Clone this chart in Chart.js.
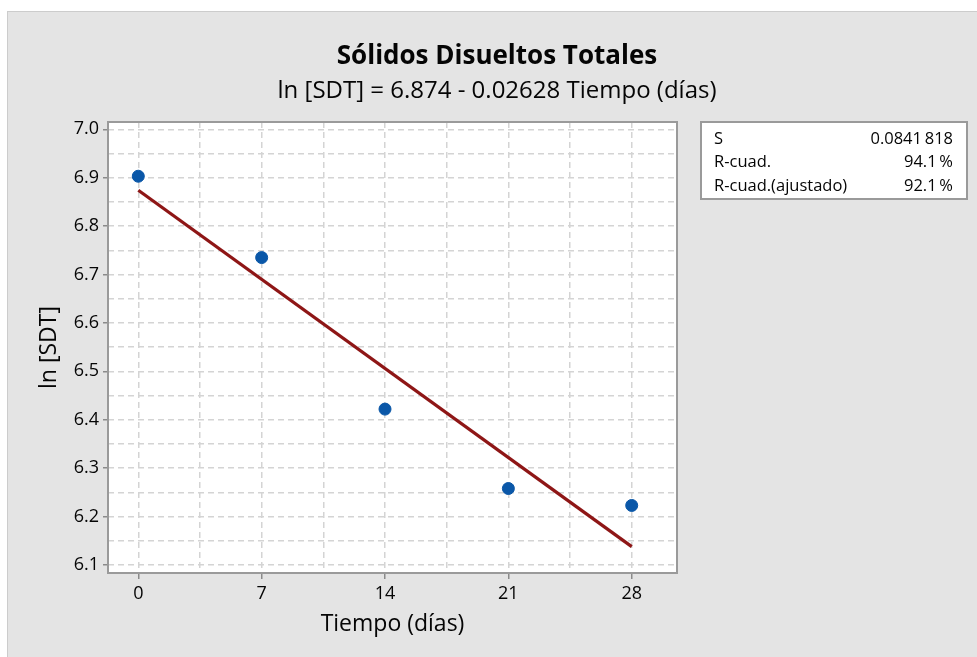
<!DOCTYPE html>
<html lang="es">
<head>
<meta charset="utf-8">
<title>Sólidos Disueltos Totales</title>
<script src="https://cdn.jsdelivr.net/npm/chart.js@4.4.1/dist/chart.umd.min.js"></script>
<style>
  html, body { margin: 0; padding: 0; background: #ffffff; }
  canvas { display: block; }
</style>
</head>
<body>
<canvas id="chart" width="977" height="657"></canvas>
<script>
const tiempo = [0, 7, 14, 21, 28];
const lnSDT = [6.903, 6.735, 6.422, 6.258, 6.223];

// fitted line ln[SDT] = 6.874 - 0.02628 t, end points
const fitX = [0, 28];
const fitY = [6.874, 6.138];

// axis ticks (labelled) and grid positions
const xTickLabels = [0, 7, 14, 21, 28];
const xGrid = [0, 3.5, 7, 10.5, 14, 17.5, 21, 24.5, 28];
const yTickLabels = [6.1, 6.2, 6.3, 6.4, 6.5, 6.6, 6.7, 6.8, 6.9, 7.0];
const yGrid = [6.1, 6.15, 6.2, 6.25, 6.3, 6.35, 6.4, 6.45, 6.5, 6.55, 6.6, 6.65, 6.7, 6.75, 6.8, 6.85, 6.9, 6.95, 7.0];

// model summary table
const statLabels = ['S', 'R-cuad.', 'R-cuad.(ajustado)'];
const statValues = ['0.0841\u2009818', '94.1\u2009%', '92.1\u2009%'];

const FONT = "'Open Sans', 'Noto Sans', sans-serif";
const TEXT = '#050505';
const GRID = '#d4d4d4';
const TICK = '#8a8a8a';

const isIn = (arr, v) => arr.some(a => Math.abs(a - v) < 1e-6);

// grey panel, white plot area, border and the summary box
const frame = {
    id: 'frame',
    beforeDraw(chart) {
        const { ctx, chartArea: a } = chart;
        ctx.save();
        ctx.fillStyle = '#e4e4e4';
        ctx.fillRect(7, 11, chart.width - 7, chart.height - 11);
        ctx.strokeStyle = '#cccccc';
        ctx.lineWidth = 1;
        ctx.strokeRect(7.5, 11.5, chart.width, chart.height);
        ctx.fillStyle = '#ffffff';
        ctx.fillRect(a.left, a.top, a.right - a.left, a.bottom - a.top);
        ctx.restore();
    },
    afterDraw(chart) {
        const { ctx, chartArea: a } = chart;
        ctx.save();
        ctx.strokeStyle = '#9a9a9a';
        ctx.lineWidth = 2;
        ctx.strokeRect(a.left, a.top, a.right - a.left, a.bottom - a.top);

        // summary box
        const bx = 701, by = 122, bw = 266, bh = 77;
        ctx.fillStyle = '#ffffff';
        ctx.fillRect(bx, by, bw, bh);
        ctx.strokeStyle = '#9a9a9a';
        ctx.lineWidth = 2;
        ctx.strokeRect(bx, by, bw, bh);
        ctx.fillStyle = TEXT;
        ctx.font = "16.5px " + FONT;
        ctx.textBaseline = 'middle';
        statLabels.forEach((lab, i) => {
            const y = 139 + i * 23.5;
            ctx.textAlign = 'left';
            ctx.fillText(lab, 714, y);
            ctx.textAlign = 'right';
            ctx.fillText(statValues[i], 953, y);
        });
        ctx.restore();
    }
};

new Chart(document.getElementById('chart'), {
    type: 'scatter',
    data: {
        datasets: [
            {
                label: 'Ajuste',
                type: 'line',
                data: fitX.map((x, i) => ({ x: x, y: fitY[i] })),
                borderColor: '#8e1616',
                borderWidth: 3.2,
                pointRadius: 0,
                fill: false,
                order: 2
            },
            {
                label: 'ln [SDT]',
                data: tiempo.map((t, i) => ({ x: t, y: lnSDT[i] })),
                backgroundColor: '#0a57a8',
                borderColor: '#0a57a8',
                pointRadius: 6,
                pointHoverRadius: 6,
                order: 1
            }
        ]
    },
    options: {
        responsive: false,
        animation: false,
        devicePixelRatio: 1,
        layout: { padding: { top: 10, left: 20, right: 3, bottom: 0 } },
        plugins: {
            legend: { display: false },
            tooltip: { enabled: false },
            title: {
                display: true,
                text: 'Sólidos Disueltos Totales',
                color: TEXT,
                font: { family: FONT, size: 26, weight: 'bold', lineHeight: 1.2 },
                padding: { top: 31.4, bottom: 0 }
            },
            subtitle: {
                display: true,
                text: 'ln [SDT] = 6.874 - 0.02628 Tiempo (días)',
                color: TEXT,
                font: { family: FONT, size: 24, lineHeight: 1.2 },
                padding: { top: 4, bottom: 16.6 }
            }
        },
        scales: {
            x: {
                type: 'linear',
                min: -1.72,
                max: 30.57,
                afterBuildTicks: (scale) => { scale.ticks = xGrid.map(v => ({ value: v })); },
                afterFit: (scale) => { scale.height = 84; },
                ticks: {
                    color: TEXT,
                    padding: 4,
                    font: { family: FONT, size: 18 },
                    maxRotation: 0,
                    autoSkip: false,
                    callback: (v) => isIn(xTickLabels, v) ? String(v) : ''
                },
                grid: {
                    color: GRID,
                    lineWidth: 1.5,
                    tickLength: 6,
                    tickWidth: 1.5,
                    tickBorderDash: [],
                    tickColor: (c) => c.tick && isIn(xTickLabels, c.tick.value) ? TICK : 'rgba(0,0,0,0)'
                },
                border: { display: false, dash: [6, 4] },
                title: {
                    display: true,
                    text: 'Tiempo (días)',
                    color: TEXT,
                    font: { family: FONT, size: 23 },
                    padding: { top: 0, bottom: 19 }
                }
            },
            y: {
                type: 'linear',
                min: 6.0835,
                max: 7.015,
                afterBuildTicks: (scale) => { scale.ticks = yGrid.map(v => ({ value: v })); },
                afterFit: (scale) => { scale.width = 88; },
                ticks: {
                    color: TEXT,
                    padding: 4,
                    font: { family: FONT, size: 18 },
                    autoSkip: false,
                    callback: (v) => isIn(yTickLabels, v) ? v.toFixed(1) : ''
                },
                grid: {
                    color: GRID,
                    lineWidth: 1.5,
                    tickLength: 5,
                    tickWidth: 1.5,
                    tickBorderDash: [],
                    tickColor: (c) => c.tick && isIn(yTickLabels, c.tick.value) ? TICK : 'rgba(0,0,0,0)'
                },
                border: { display: false, dash: [6, 4] },
                title: {
                    display: true,
                    text: 'ln [SDT]',
                    color: TEXT,
                    font: { family: FONT, size: 23 },
                    padding: { top: 16, bottom: 0 }
                }
            },
            // empty right-hand axis: keeps room for the summary box so the
            // titles stay centred on the whole panel
            side: {
                type: 'linear',
                position: 'right',
                min: 6.0835,
                max: 7.015,
                afterFit: (scale) => { scale.width = 297; },
                ticks: { display: false },
                grid: { drawOnChartArea: false, drawTicks: false },
                border: { display: false }
            }
        }
    },
    plugins: [frame]
});
</script>
</body>
</html>
